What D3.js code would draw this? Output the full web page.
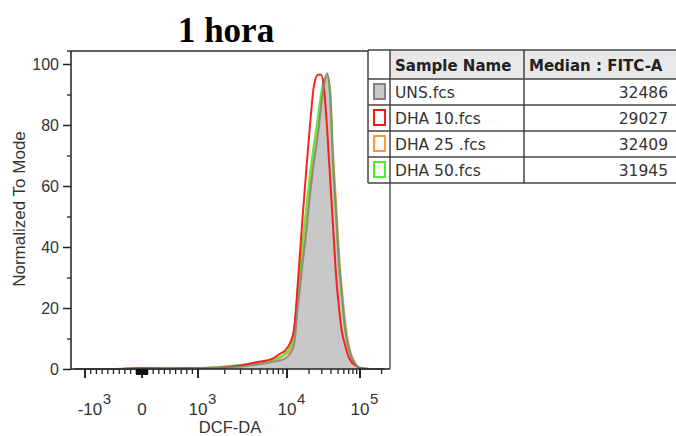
<!DOCTYPE html>
<html>
<head>
<meta charset="utf-8">
<script src="https://cdn.jsdelivr.net/npm/d3@7/dist/d3.min.js"></script>
<style>
  html, body { margin: 0; padding: 0; background: #fff; }
  svg { display: block; }
</style>
</head>
<body>
<svg id="chart" width="676" height="436"></svg>
<script>
// ---------------- DATA ----------------
const titleText = "1 hora";
const xLabel = "DCF-DA";
const yLabel = "Normalized To Mode";

// DCF-DA intensity at each histogram bin
const binIntensity = [-1180, -500, 0, 500, 1000, 1550, 2290, 3375, 4365, 5660, 6780, 8340, 9500,
  11000, 12470, 14160, 16040, 18200, 20650, 23440, 26600, 29240, 32150, 35350, 38850, 42700,
  46900, 51550, 56650, 62300, 68500, 75300, 85500, 100000, 137000, 220000];

// normalized-to-mode values per sample
const unsValues   = [0,0,0.2,0.2,0.3,0.4,0.6,0.9,1.4,1.9,2.3,2.8,3.5,5,8,21,33,44,57,68,77,86,93,97,91,68,52,35,24,14,8,4.2,1.8,0.3,0,0];
const dha10Values = [0,0,0.3,0.2,0.3,0.3,0.7,1.4,2.1,2.7,3.3,5.0,6.0,8.5,13,29,47,64,80,93,96.5,96.5,92,79,63,47,31,20,12,8,4.5,2.5,1.3,0.3,0,0];
const dha25Values = [0,0,0.2,0.2,0.3,0.5,0.9,1.3,1.8,2.3,2.8,3.6,4.6,6,10,23,36,47,60,70,79,87,94,96,92,71,55,38,26,16,9,5,2,0.4,0,0];
const dha50Values = [0,0,0.2,0.2,0.3,0.6,1.0,1.5,2.0,2.5,3.0,4.0,5.0,7,12,27,40,52,64,74,83,90,95,96,89,67,50,34,23,13,7.5,4,1.6,0.3,0,0];

const sampleNames = ["UNS.fcs", "DHA 10.fcs", "DHA 25 .fcs", "DHA 50.fcs"];
const sampleMedians = ["32486", "29027", "32409", "31945"];
const tableHeaders = ["Sample Name", "Median : FITC-A"];

const yTickValues = [0, 20, 40, 60, 80, 100];
const yMinorTicks = [10, 30, 50, 70, 90];
const xMajorTicks = [-1000, 0, 1000, 10000, 100000];
const xMajorBase  = ["-10", "0", "10", "10", "10"];
const xMajorExp   = ["3", "", "3", "4", "5"];
const xDomainMin = -1250, xDomainMax = 262144;

// ---------------- STYLE ----------------
const colors = { uns: "#828282", unsFill: "#c8c8c8", dha10: "#ff1414", dha25: "#ff9a3c", dha50: "#4ded2a" };
const swatchStroke = [colors.uns, colors.dha10, colors.dha25, colors.dha50];
const swatchFill = [colors.unsFill, "#fff", "#fff", "#fff"];

const svg = d3.select("#chart");
svg.append("rect").attr("width", 676).attr("height", 436).attr("fill", "#fff");

const plot = { left: 71, right: 390, top: 51, bottom: 369 };
const pw = plot.right - plot.left;

// biexponential-like display transform: linear within ±1000, log decades beyond
function biex(v) {
  const a = Math.abs(v);
  const t = a <= 1000 ? a / 1000 : 1 + Math.log10(a / 1000);
  return Math.sign(v) * t;
}
const xFrac = [0, 0.0439, 0.2226, 0.3981, 0.6771, 0.906, 1];
const xLin = d3.scaleLinear()
  .domain([biex(xDomainMin), -1, 0, 1, 2, 3, biex(xDomainMax)])
  .range(xFrac.map(f => plot.left + f * pw));
const X = v => xLin(biex(v));

const Y = d3.scaleLinear().domain([0, 100]).range([plot.bottom, 64]);

// ---------------- TITLE ----------------
svg.append("text").attr("x", 226).attr("y", 42).attr("text-anchor", "middle")
  .attr("font-family", "Liberation Serif, Times New Roman, serif").attr("font-weight", "bold")
  .attr("font-size", 35).attr("fill", "#000").text(titleText);

// ---------------- FRAME ----------------
svg.append("line").attr("x1", 67).attr("x2", plot.right).attr("y1", plot.top).attr("y2", plot.top)
  .attr("stroke", "#333").attr("stroke-width", 1.5);
svg.append("line").attr("x1", plot.right).attr("x2", plot.right).attr("y1", plot.top).attr("y2", plot.bottom)
  .attr("stroke", "#555").attr("stroke-width", 1.5);

// ---------------- CURVES ----------------
const pts = vals => binIntensity.map((b, i) => [b, vals[i]]);
const area = d3.area().x(d => X(d[0])).y0(Y(0)).y1(d => Y(d[1])).curve(d3.curveMonotoneX);
const line = d3.line().x(d => X(d[0])).y(d => Y(d[1])).curve(d3.curveMonotoneX);

svg.append("path").attr("d", area(pts(unsValues))).attr("fill", colors.unsFill);
[[dha25Values, colors.dha25], [dha50Values, colors.dha50], [dha10Values, colors.dha10]].forEach(([v, c]) => {
  svg.append("path").attr("d", line(pts(v))).attr("fill", "none")
    .attr("stroke", c).attr("stroke-width", 2).attr("stroke-linejoin", "round").attr("opacity", 0.95);
});
svg.append("path").attr("d", line(pts(unsValues))).attr("fill", "none")
  .attr("stroke", colors.uns).attr("stroke-width", 2).attr("opacity", 0.85);

// ---------------- Y AXIS ----------------
const yAxis = svg.append("g").attr("transform", `translate(${plot.left},0)`)
  .call(d3.axisLeft(Y).tickValues(yTickValues).tickSize(8).tickSizeOuter(0).tickPadding(4));
yAxis.select(".domain").attr("stroke", "#222").attr("stroke-width", 1.5)
  .attr("d", `M0,${plot.top}V${plot.bottom}`);
yAxis.selectAll(".tick line").attr("stroke", "#222").attr("stroke-width", 1.5);
yAxis.selectAll(".tick text").attr("font-family", "Liberation Sans, Arial, sans-serif")
  .attr("font-size", 16).attr("fill", "#333");
svg.append("g").attr("transform", `translate(${plot.left},0)`)
  .call(d3.axisLeft(Y).tickValues(yMinorTicks).tickSize(4).tickFormat(""))
  .call(g => g.select(".domain").remove())
  .selectAll("line").attr("stroke", "#222").attr("stroke-width", 1.3);

svg.append("text").attr("transform", `translate(25,209) rotate(-90)`).attr("text-anchor", "middle")
  .attr("font-family", "Liberation Sans, Arial, sans-serif").attr("font-size", 17).attr("fill", "#333")
  .text(yLabel);

// ---------------- X AXIS ----------------
const xMinor = [].concat(
  d3.range(-900, 0, 100), d3.range(100, 1000, 100),
  d3.range(2000, 10000, 1000), d3.range(20000, 100000, 10000), [200000]);
const xCluster = [].concat(d3.range(-90, 0, 10), d3.range(10, 100, 10));

const xg = svg.append("g").attr("transform", `translate(0,${plot.bottom})`);
xg.append("line").attr("x1", plot.left).attr("x2", plot.right).attr("stroke", "#222").attr("stroke-width", 1.5);
xg.selectAll(".mn").data(xMinor).join("line").attr("class", "mn")
  .attr("x1", d => X(d)).attr("x2", d => X(d)).attr("y1", 0).attr("y2", 5)
  .attr("stroke", "#222").attr("stroke-width", 1.3);
xg.selectAll(".cl").data(xCluster).join("line").attr("class", "cl")
  .attr("x1", d => X(d)).attr("x2", d => X(d)).attr("y1", 0).attr("y2", 6)
  .attr("stroke", "#111").attr("stroke-width", 1.6);
xg.selectAll(".mj").data(xMajorTicks).join("line").attr("class", "mj")
  .attr("x1", d => X(d)).attr("x2", d => X(d)).attr("y1", 0).attr("y2", 9)
  .attr("stroke", "#111").attr("stroke-width", 1.8);

const lblFont = "Liberation Sans, Arial, sans-serif";
xMajorTicks.forEach((v, i) => {
  const cx = X(v) + (v < 0 ? 5 : 0);
  const t = svg.append("text").attr("x", cx).attr("y", 415).attr("text-anchor", "middle")
    .attr("font-family", lblFont).attr("font-size", 17).attr("fill", "#333").text(xMajorBase[i]);
  if (xMajorExp[i]) {
    const w = t.node().getComputedTextLength();
    svg.append("text").attr("x", cx + w / 2 + 0.5).attr("y", 404)
      .attr("font-family", lblFont).attr("font-size", 15).attr("fill", "#333").text(xMajorExp[i]);
  }
});
svg.append("text").attr("x", 230).attr("y", 433).attr("text-anchor", "middle")
  .attr("font-family", lblFont).attr("font-size", 16.5).attr("fill", "#333").text(xLabel);

// ---------------- LEGEND TABLE ----------------
const tb = { x0: 368, x1: 390, x2: 524, x3: 676, top: 50, head: 79, rowH: 26 };
const tg = svg.append("g");
const tBottom = tb.head + tb.rowH * sampleNames.length;
tg.append("rect").attr("x", tb.x0).attr("y", tb.top).attr("width", tb.x3 - tb.x0).attr("height", tBottom - tb.top)
  .attr("fill", "#fff");
tg.append("rect").attr("x", tb.x1).attr("y", tb.top).attr("width", tb.x3 - tb.x1).attr("height", tb.head - tb.top)
  .attr("fill", "#e8e8e8");
const bc = "#444";
[tb.top, tb.head].concat(sampleNames.map((_, i) => tb.head + tb.rowH * (i + 1))).forEach(y => {
  tg.append("line").attr("x1", tb.x0).attr("x2", tb.x3).attr("y1", y).attr("y2", y)
    .attr("stroke", bc).attr("stroke-width", 1.5);
});
[tb.x0, tb.x1, tb.x2].forEach(x => {
  tg.append("line").attr("x1", x).attr("x2", x).attr("y1", tb.top).attr("y2", tBottom)
    .attr("stroke", bc).attr("stroke-width", 1.5);
});
const hFont = "DejaVu Sans, Verdana, sans-serif";
tg.append("text").attr("x", 395).attr("y", 71).attr("font-family", hFont).attr("font-weight", "bold")
  .attr("font-size", 15).attr("fill", "#222").text(tableHeaders[0]);
tg.append("text").attr("x", 529).attr("y", 71).attr("font-family", hFont).attr("font-weight", "bold")
  .attr("font-size", 15).attr("fill", "#222").text(tableHeaders[1]);
sampleNames.forEach((n, i) => {
  const ry = tb.head + tb.rowH * i;
  tg.append("rect").attr("x", 374).attr("y", ry + 5).attr("width", 11).attr("height", 15)
    .attr("fill", swatchFill[i]).attr("stroke", swatchStroke[i]).attr("stroke-width", 2);
  tg.append("text").attr("x", 395).attr("y", ry + 19).attr("font-family", hFont)
    .attr("font-size", 15.5).attr("fill", "#333").text(n);
  tg.append("text").attr("x", 668).attr("y", ry + 19).attr("text-anchor", "end").attr("font-family", hFont)
    .attr("font-size", 15.5).attr("fill", "#333").text(sampleMedians[i]);
});
</script>
</body>
</html>
